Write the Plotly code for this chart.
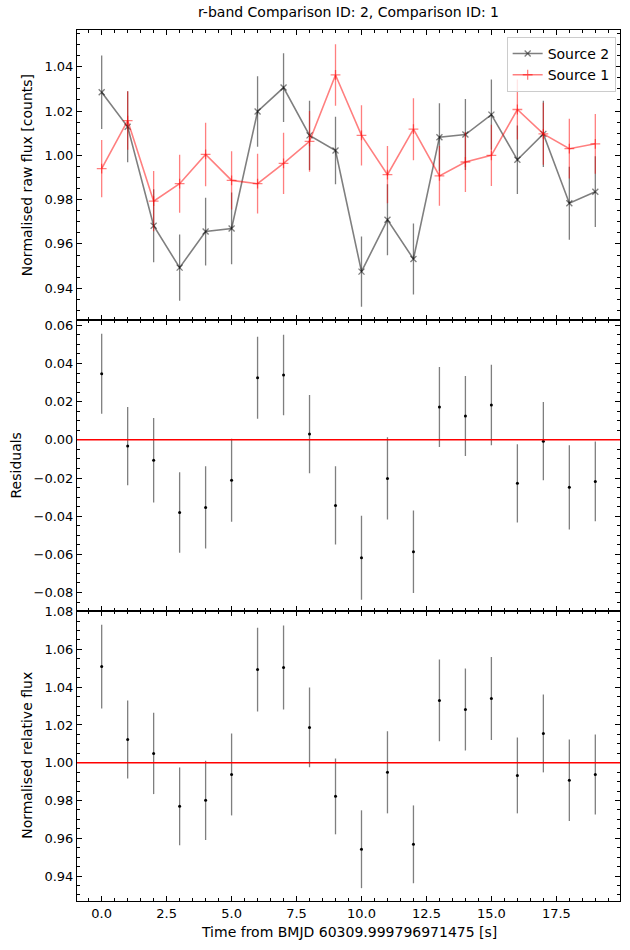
import plotly.graph_objects as go

# ---------------- data ----------------
time_s = list(range(20))

src2_flux = [1.0285, 1.0129, 0.9682, 0.9493, 0.9656, 0.9670, 1.0198, 1.0306, 1.0090, 1.0022,
             0.9475, 0.9709, 0.9532, 1.0082, 1.0094, 1.0184, 0.9980, 1.0097, 0.9784, 0.9836]
src2_err = [0.0166, 0.0160, 0.0165, 0.0150, 0.0153, 0.0162, 0.0159, 0.0155, 0.0156, 0.0152,
            0.0159, 0.0160, 0.0160, 0.0153, 0.0160, 0.0159, 0.0155, 0.0150, 0.0165, 0.0160]

src1_flux = [0.9940, 1.0157, 0.9793, 0.9872, 1.0004, 0.9887, 0.9872, 0.9964, 1.0063, 1.0363,
             1.0090, 0.9913, 1.0118, 0.9907, 0.9970, 1.0000, 1.0207, 1.0097, 1.0030, 1.0052]
src1_err = [0.0129, 0.0132, 0.0136, 0.0131, 0.0143, 0.0132, 0.0135, 0.0138, 0.0137, 0.0139,
            0.0136, 0.0129, 0.0140, 0.0135, 0.0135, 0.0138, 0.0135, 0.0140, 0.0135, 0.0135]

residuals = [0.0346, -0.0033, -0.0107, -0.0381, -0.0354, -0.0212, 0.0325, 0.0340, 0.0030, -0.0344,
             -0.0618, -0.0202, -0.0586, 0.0172, 0.0125, 0.0182, -0.0228, -0.0007, -0.0249, -0.0218]
resid_err = [0.0210, 0.0205, 0.0221, 0.0211, 0.0215, 0.0217, 0.0215, 0.0211, 0.0205, 0.0205,
             0.0220, 0.0216, 0.0216, 0.0210, 0.0210, 0.0211, 0.0205, 0.0205, 0.0221, 0.0209]

rel_flux = [1.0509, 1.0123, 1.0049, 0.9769, 0.9801, 0.9938, 1.0493, 1.0504, 1.0187, 0.9822,
            0.9542, 0.9949, 0.9568, 1.0330, 1.0282, 1.0340, 0.9933, 1.0155, 0.9907, 0.9938]
rel_err = [0.0222, 0.0207, 0.0215, 0.0206, 0.0210, 0.0217, 0.0222, 0.0222, 0.0211, 0.0201,
           0.0206, 0.0217, 0.0206, 0.0216, 0.0217, 0.0220, 0.0201, 0.0206, 0.0216, 0.0212]

title_text = "r-band Comparison ID: 2, Comparison ID: 1"
xlabel = "Time from BMJD 60309.999796971475 [s]"
ylabels = ["Normalised raw flux [counts]", "Residuals", "Normalised relative flux"]

# ---------------- figure ----------------
FONT = "DejaVu Sans"
GREY = "rgba(0,0,0,0.5)"
RED_A = "rgba(255,0,0,0.5)"
W, H = 630, 950
ML, MR, MT, MB = 77, 10, 30, 49
PW, PH = W - ML - MR, H - MT - MB

def px_x(px):
    return (px - ML) / PW

def px_y(py):
    return (H - MB - py) / PH

fig = go.Figure()

# top panel
fig.add_trace(go.Scatter(
    x=time_s, y=src2_flux, mode="lines+markers", name="Source 2",
    line=dict(color=GREY, width=1.6),
    marker=dict(symbol="x-thin", size=6, color=GREY, line=dict(color=GREY, width=1.3)),
    error_y=dict(type="data", array=src2_err, visible=True, color=GREY, thickness=1.3, width=0),
    xaxis="x3", yaxis="y3"))
fig.add_trace(go.Scatter(
    x=time_s, y=src1_flux, mode="lines+markers", name="Source 1",
    line=dict(color=RED_A, width=1.6),
    marker=dict(symbol="cross-thin", size=7, color=RED_A, line=dict(color=RED_A, width=1.3)),
    error_y=dict(type="data", array=src1_err, visible=True, color=RED_A, thickness=1.3, width=0),
    xaxis="x3", yaxis="y3"))

# middle panel
fig.add_trace(go.Scatter(
    x=time_s, y=residuals, mode="markers", showlegend=False,
    marker=dict(symbol="circle", size=3, color="black"),
    error_y=dict(type="data", array=resid_err, visible=True, color=GREY, thickness=1.3, width=0),
    xaxis="x2", yaxis="y2"))

# bottom panel
fig.add_trace(go.Scatter(
    x=time_s, y=rel_flux, mode="markers", showlegend=False,
    marker=dict(symbol="circle", size=3, color="black"),
    error_y=dict(type="data", array=rel_err, visible=True, color=GREY, thickness=1.3, width=0),
    xaxis="x", yaxis="y"))

# reference lines
fig.add_shape(type="line", xref="x2 domain", yref="y2", x0=0, x1=1, y0=0, y1=0,
              line=dict(color="red", width=1.5))
fig.add_shape(type="line", xref="x domain", yref="y", x0=0, x1=1, y0=1, y1=1,
              line=dict(color="red", width=1.5))

xrange = [-0.95, 19.95]
common_ax = dict(showline=True, linecolor="black", linewidth=1, mirror="allticks",
                 ticks="inside", ticklen=5, tickwidth=1, tickcolor="black",
                 showgrid=False, zeroline=False,
                 tickfont=dict(family=FONT, size=13, color="black"))

xcommon = dict(common_ax, range=xrange, tick0=0, dtick=2.5, tickformat=".1f",
               minor=dict(ticks="inside", ticklen=3, tick0=0, dtick=0.5, tickcolor="black"))

def ycommon(rng):
    return dict(common_ax, range=rng, tick0=0, dtick=0.02, tickformat=".2f",
                minor=dict(ticks="inside", ticklen=3, tick0=0, dtick=0.005, tickcolor="black"))

d1 = [0, 1/3]
d2 = [1/3, 2/3]
d3 = [2/3, 1]

lab_font = dict(family=FONT, size=14, color="black")
annotations = [
    dict(text=ylabels[0], x=px_x(27), y=(d3[0] + d3[1]) / 2, xref="paper", yref="paper",
         textangle=-90, showarrow=False, xanchor="center", yanchor="middle", font=lab_font),
    dict(text=ylabels[1], x=px_x(15), y=(d2[0] + d2[1]) / 2, xref="paper", yref="paper",
         textangle=-90, showarrow=False, xanchor="center", yanchor="middle", font=lab_font),
    dict(text=ylabels[2], x=px_x(27), y=(d1[0] + d1[1]) / 2, xref="paper", yref="paper",
         textangle=-90, showarrow=False, xanchor="center", yanchor="middle", font=lab_font),
    dict(text=xlabel, x=0.5, y=px_y(932), xref="paper", yref="paper",
         showarrow=False, xanchor="center", yanchor="middle", font=lab_font),
]

fig.update_layout(
    width=W, height=H,
    margin=dict(l=ML, r=MR, t=MT, b=MB),
    paper_bgcolor="white", plot_bgcolor="white",
    font=dict(family=FONT, size=13, color="black"),
    title=dict(text=title_text, x=(ML + W - MR) / 2 / W, xanchor="center", y=1 - 12 / H,
               yanchor="middle", font=dict(family=FONT, size=14, color="black")),
    xaxis=dict(xcommon, domain=[0, 1], anchor="y"),
    yaxis=dict(ycommon([0.9268, 1.0805]), domain=d1, anchor="x"),
    xaxis2=dict(xcommon, domain=[0, 1], anchor="y2", showticklabels=False),
    yaxis2=dict(ycommon([-0.0895, 0.0626]), domain=d2, anchor="x2"),
    xaxis3=dict(xcommon, domain=[0, 1], anchor="y3", showticklabels=False),
    yaxis3=dict(ycommon([0.9255, 1.0566]), domain=d3, anchor="x3"),
    annotations=annotations,
    legend=dict(x=0.992, y=0.992, xanchor="right", yanchor="top",
                bgcolor="rgba(255,255,255,0.8)", bordercolor="#cccccc", borderwidth=1,
                font=dict(family=FONT, size=14, color="black")),
    showlegend=True,
)

fig.write_html("out.html")
